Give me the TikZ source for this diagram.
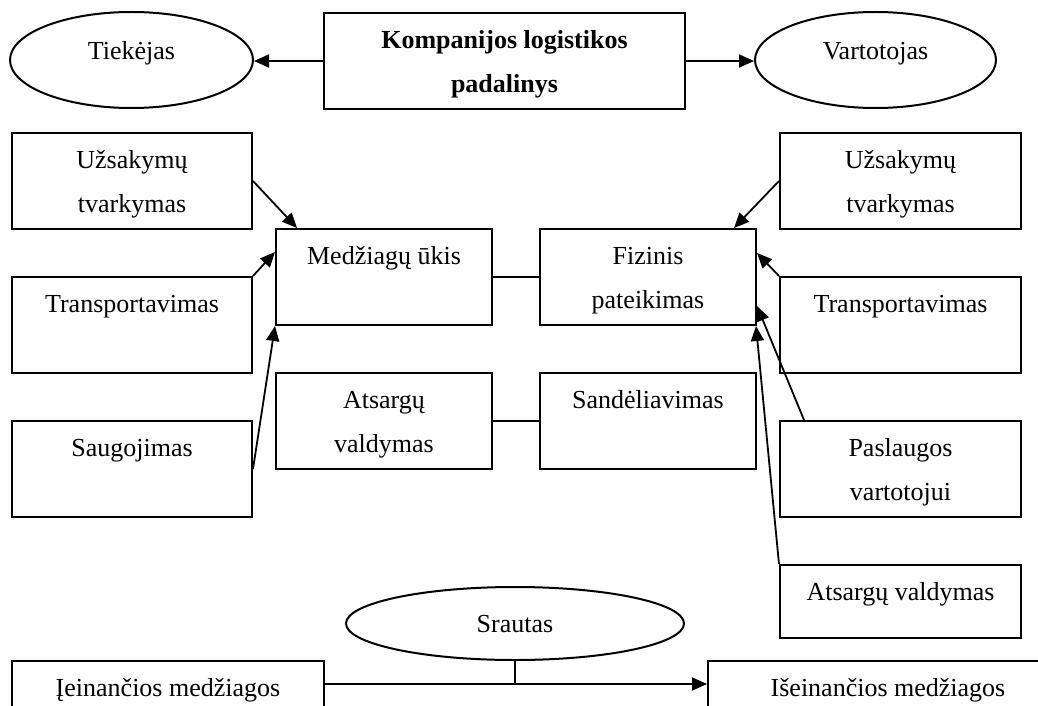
\documentclass[tikz,border=0pt]{standalone}
\usepackage{fontspec}
\setmainfont{Liberation Serif}
\usetikzlibrary{shapes.geometric,arrows.meta,calc}
% invisible rule that fixes the top of the first text line
\newcommand\tstrut{\rule{0pt}{12pt}}
\begin{document}
\begin{tikzpicture}[x=0.5pt,y=-0.5pt,
  font=\fontsize{13}{22}\selectfont,
  box/.style={draw,line width=1pt,inner sep=0pt,anchor=north west,
              minimum width=120pt,minimum height=48pt},
  oval/.style={draw,line width=1pt,ellipse,inner sep=0pt,
               text height=0pt,text depth=0pt},
  txt/.style={anchor=north,inner sep=0pt,align=center,yshift=-6pt},
  arr/.style={line width=0.9pt,-{Triangle[length=7.5pt,width=6.5pt]}},
  link/.style={line width=0.9pt}]
\clip (0,0) rectangle (1038,706);

% top row
\node[box,minimum width=180.5pt,
  label={[txt,font=\fontsize{13}{22}\selectfont\bfseries]north:{\tstrut Kompanijos logistikos\\padalinys}}]
  (main) at (323,12) {};
\node[oval,minimum width=121.5pt,minimum height=48pt] (tiek) at (131.5,60) {Tiekėjas};
\node[oval,minimum width=120.5pt,minimum height=48pt] (vart) at (875.5,60) {Vartotojas};

% left column
\node[box,label={[txt]north:{\tstrut Užsakymų\\tvarkymas}}] (uzL) at (11,132) {};
\node[box,label={[txt]north:{\tstrut Transportavimas}}] (trL) at (11,276) {};
\node[box,label={[txt]north:{\tstrut Saugojimas}}] (sau) at (11,420) {};

% middle blocks
\node[box,minimum width=108pt,label={[txt]north:{\tstrut Medžiagų ūkis}}] (med) at (275,228) {};
\node[box,minimum width=108pt,label={[txt]north:{\tstrut Fizinis\\pateikimas}}] (fiz) at (539,228) {};
\node[box,minimum width=108pt,label={[txt]north:{\tstrut Atsargų\\valdymas}}] (atsM) at (275,372) {};
\node[box,minimum width=108pt,label={[txt]north:{\tstrut Sandėliavimas}}] (san) at (539,372) {};

% right column
\node[box,minimum width=120.5pt,label={[txt]north:{\tstrut Užsakymų\\tvarkymas}}] (uzR) at (779,132) {};
\node[box,minimum width=120.5pt,label={[txt]north:{\tstrut Transportavimas}}] (trR) at (779,276) {};
\node[box,minimum width=120.5pt,label={[txt]north:{\tstrut Paslaugos\\vartotojui}}] (pas) at (779,420) {};
\node[box,minimum width=120.5pt,minimum height=36.5pt,
  label={[txt]north:{\tstrut Atsargų valdymas}}] (atsR) at (779,564) {};

% flow at the bottom
\node[oval,minimum width=169pt,minimum height=36.5pt,text height=8.5pt] (sra) at (515,623.5) {Srautas};
\node[box,minimum width=156pt,minimum height=60pt,
  label={[txt]north:{\tstrut Įeinančios medžiagos}}] (iein) at (11,660) {};
\node[box,minimum width=180pt,minimum height=60pt,
  label={[txt]north:{\tstrut Išeinančios medžiagos}}] (isein) at (707,660) {};

% connectors
\draw[arr] (main.west) -- (main.west -| tiek.east);
\draw[arr] (main.east) -- (main.east -| vart.west);

\draw[arr] (uzL.east) -- ($(med.north west)+(22,0)$);
\draw[arr] (trL.north east) -- ($(med.north west)+(0,24)$);
\draw[arr] (sau.east) -- (med.south west);

\draw[arr] (uzR.west) -- ($(fiz.north east)+(-23,0)$);
\draw[arr] (trR.north west) -- ($(fiz.north east)+(0,25)$);
\draw[arr] ($(pas.north west)+(25,0)$) -- ($(fiz.north east)+(0,78)$);
\draw[arr] (atsR.north west) -- ($(fiz.south east)+(-1,0)$);

\draw[link] (med.east) -- (fiz.west);
\draw[link] (atsM.east) -- (san.west);

\coordinate (flowL) at ($(iein.north east)+(0,24)$);
\coordinate (flowR) at ($(isein.north west)+(0,24)$);
\draw[arr] (flowL) -- (flowR);
\draw[link] (sra.south) -- (sra.south |- flowL);
\end{tikzpicture}
\end{document}
